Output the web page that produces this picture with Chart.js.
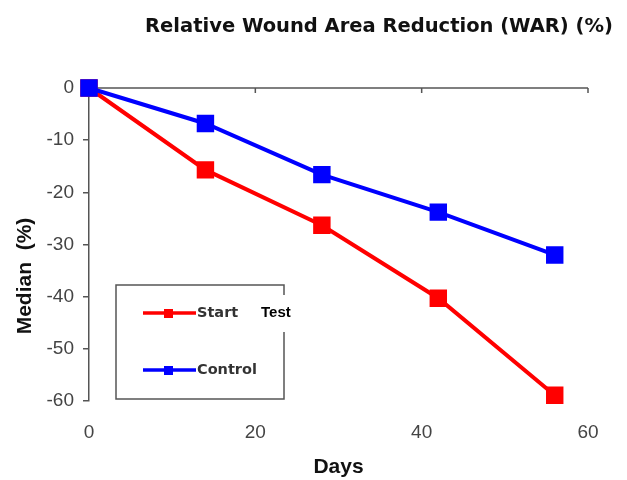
<!DOCTYPE html>
<html>
<head>
<meta charset="utf-8">
<script src="https://cdn.jsdelivr.net/npm/chart.js@4/dist/chart.umd.min.js"></script>
<style>
  html, body { margin: 0; padding: 0; background: #fff; }
  #wrap { width: 627px; height: 480px; }
</style>
</head>
<body>
<div id="wrap"><canvas id="chart"></canvas></div>
<script>
// data
const days = [0, 14, 28, 42, 56];
const testValues = [0, -15.7, -26.3, -40.3, -58.9];
const controlValues = [0, -6.8, -16.6, -23.8, -32.0];
const xTickValues = [0, 20, 40, 60];
const yTickValues = [0, -10, -20, -30, -40, -50, -60];

const chartTitle = "Relative Wound Area Reduction (WAR) (%)";
const xTitle = "Days";
const yTitle = "Median  (%)";
const testLabel = "Start";
const testExtra = "Test";
const controlLabel = "Control";

const axisColor = "#555";

function toPoints(xs, ys) {
    return xs.map((x, i) => ({ x: x, y: ys[i] }));
}

// line along y = 0 with small ticks pointing down
const topAxisPlugin = {
    id: "topAxis",
    beforeDatasetsDraw(chart) {
        const ctx = chart.ctx;
        const xs = chart.scales.x;
        const y0 = chart.scales.y.getPixelForValue(0);
        ctx.save();
        ctx.strokeStyle = axisColor;
        ctx.lineWidth = 1.5;
        ctx.beginPath();
        ctx.moveTo(chart.chartArea.left, y0);
        ctx.lineTo(chart.chartArea.right, y0);
        xTickValues.forEach((v) => {
            if (v === 0) return;
            const px = xs.getPixelForValue(v);
            ctx.moveTo(px, y0);
            ctx.lineTo(px, y0 + 5);
        });
        ctx.stroke();
        ctx.restore();
    },
};

// main title (sits right of centre) and rotated y title
const titlesPlugin = {
    id: "titles",
    afterDraw(chart) {
        const ctx = chart.ctx;
        ctx.save();
        ctx.font = "bold 19.5px 'DejaVu Sans'";
        ctx.fillStyle = "#111";
        ctx.textAlign = "center";
        ctx.textBaseline = "middle";
        ctx.fillText(chartTitle, 379, 27);

        ctx.translate(25, 276);
        ctx.rotate(-Math.PI / 2);
        ctx.font = "bold 21px 'Liberation Sans', Arial";
        ctx.fillText(yTitle, 0, 0);
        ctx.restore();
    },
};

const legendBoxPlugin = {
    id: "legendBox",
    afterDraw(chart) {
        const ctx = chart.ctx;
        const a = chart.chartArea;
        const left = a.left + 27, right = a.left + 195;
        const top = a.top + 197, bottom = a.top + 311;
        ctx.save();
        ctx.strokeStyle = axisColor;
        ctx.lineWidth = 1.5;
        ctx.beginPath();
        ctx.moveTo(right, top + 10);
        ctx.lineTo(right, top);
        ctx.lineTo(left, top);
        ctx.lineTo(left, bottom);
        ctx.lineTo(right, bottom);
        ctx.lineTo(right, top + 47);
        ctx.stroke();

        const items = [
            { label: testLabel, color: "#ff0000", y: top + 28 },
            { label: controlLabel, color: "#0000ff", y: top + 85 },
        ];
        items.forEach((it) => {
            ctx.strokeStyle = it.color;
            ctx.fillStyle = it.color;
            ctx.lineWidth = 3.5;
            ctx.beginPath();
            ctx.moveTo(left + 27, it.y);
            ctx.lineTo(left + 80, it.y);
            ctx.stroke();
            ctx.fillRect(left + 48, it.y - 4, 9, 9);
            ctx.fillStyle = "#333";
            ctx.font = "bold 14.5px 'DejaVu Sans'";
            ctx.textBaseline = "middle";
            ctx.textAlign = "left";
            ctx.fillText(it.label, left + 81, it.y);
        });
        ctx.fillStyle = "#000";
        ctx.font = "bold 15px 'Liberation Sans'";
        ctx.fillText(testExtra, left + 145, top + 28);
        ctx.restore();
    },
};

const ctx = document.getElementById("chart");
const chart = new Chart(ctx, {
    type: "line",
    data: {
        datasets: [
            {
                label: controlLabel,
                data: toPoints(days, controlValues),
                borderColor: "#0000ff",
                backgroundColor: "#0000ff",
                borderWidth: 4,
                pointStyle: "rect",
                pointRadius: 9.5,
                pointHoverRadius: 9.5,
                fill: false,
                order: 0,
                clip: false,
            },
            {
                label: testLabel,
                data: toPoints(days, testValues),
                borderColor: "#ff0000",
                backgroundColor: "#ff0000",
                borderWidth: 4,
                pointStyle: "rect",
                pointRadius: 9.5,
                pointHoverRadius: 9.5,
                fill: false,
                order: 1,
                clip: false,
            },
        ],
    },
    options: {
        responsive: true,
        maintainAspectRatio: false,
        animation: false,
        layout: {
            padding: { top: 88, right: 39, left: 0, bottom: 0 },
        },
        plugins: {
            legend: { display: false },
            title: { display: false },
            tooltip: { enabled: false },
        },
        scales: {
            x: {
                type: "linear",
                min: 0,
                max: 60,
                afterBuildTicks: (scale) => {
                    scale.ticks = xTickValues.map((v) => ({ value: v }));
                },
                afterFit: (scale) => {
                    scale.height = 79;
                },
                grid: { display: false },
                border: { display: false },
                ticks: {
                    padding: 12,
                    color: "#444",
                    font: { family: "'Liberation Sans', Arial", size: 19 },
                },
                title: {
                    display: true,
                    text: xTitle,
                    color: "#111",
                    padding: { bottom: 0, top: 0 },
                    font: { family: "'Liberation Sans', Arial", size: 21, weight: "bold" },
                },
            },
            y: {
                type: "linear",
                min: -60,
                max: 0,
                afterBuildTicks: (scale) => {
                    scale.ticks = yTickValues.map((v) => ({ value: v }));
                },
                afterFit: (scale) => {
                    scale.width = 89;
                },
                grid: {
                    drawOnChartArea: false,
                    drawTicks: true,
                    tickLength: 6,
                    color: axisColor,
                    lineWidth: 1.5,
                },
                border: { display: true, color: axisColor, width: 1.5 },
                ticks: {
                    padding: 9,
                    color: "#444",
                    font: { family: "'Liberation Sans', Arial", size: 19 },
                },
                title: { display: false },
            },
        },
    },
    plugins: [topAxisPlugin, titlesPlugin, legendBoxPlugin],
});
</script>
</body>
</html>
